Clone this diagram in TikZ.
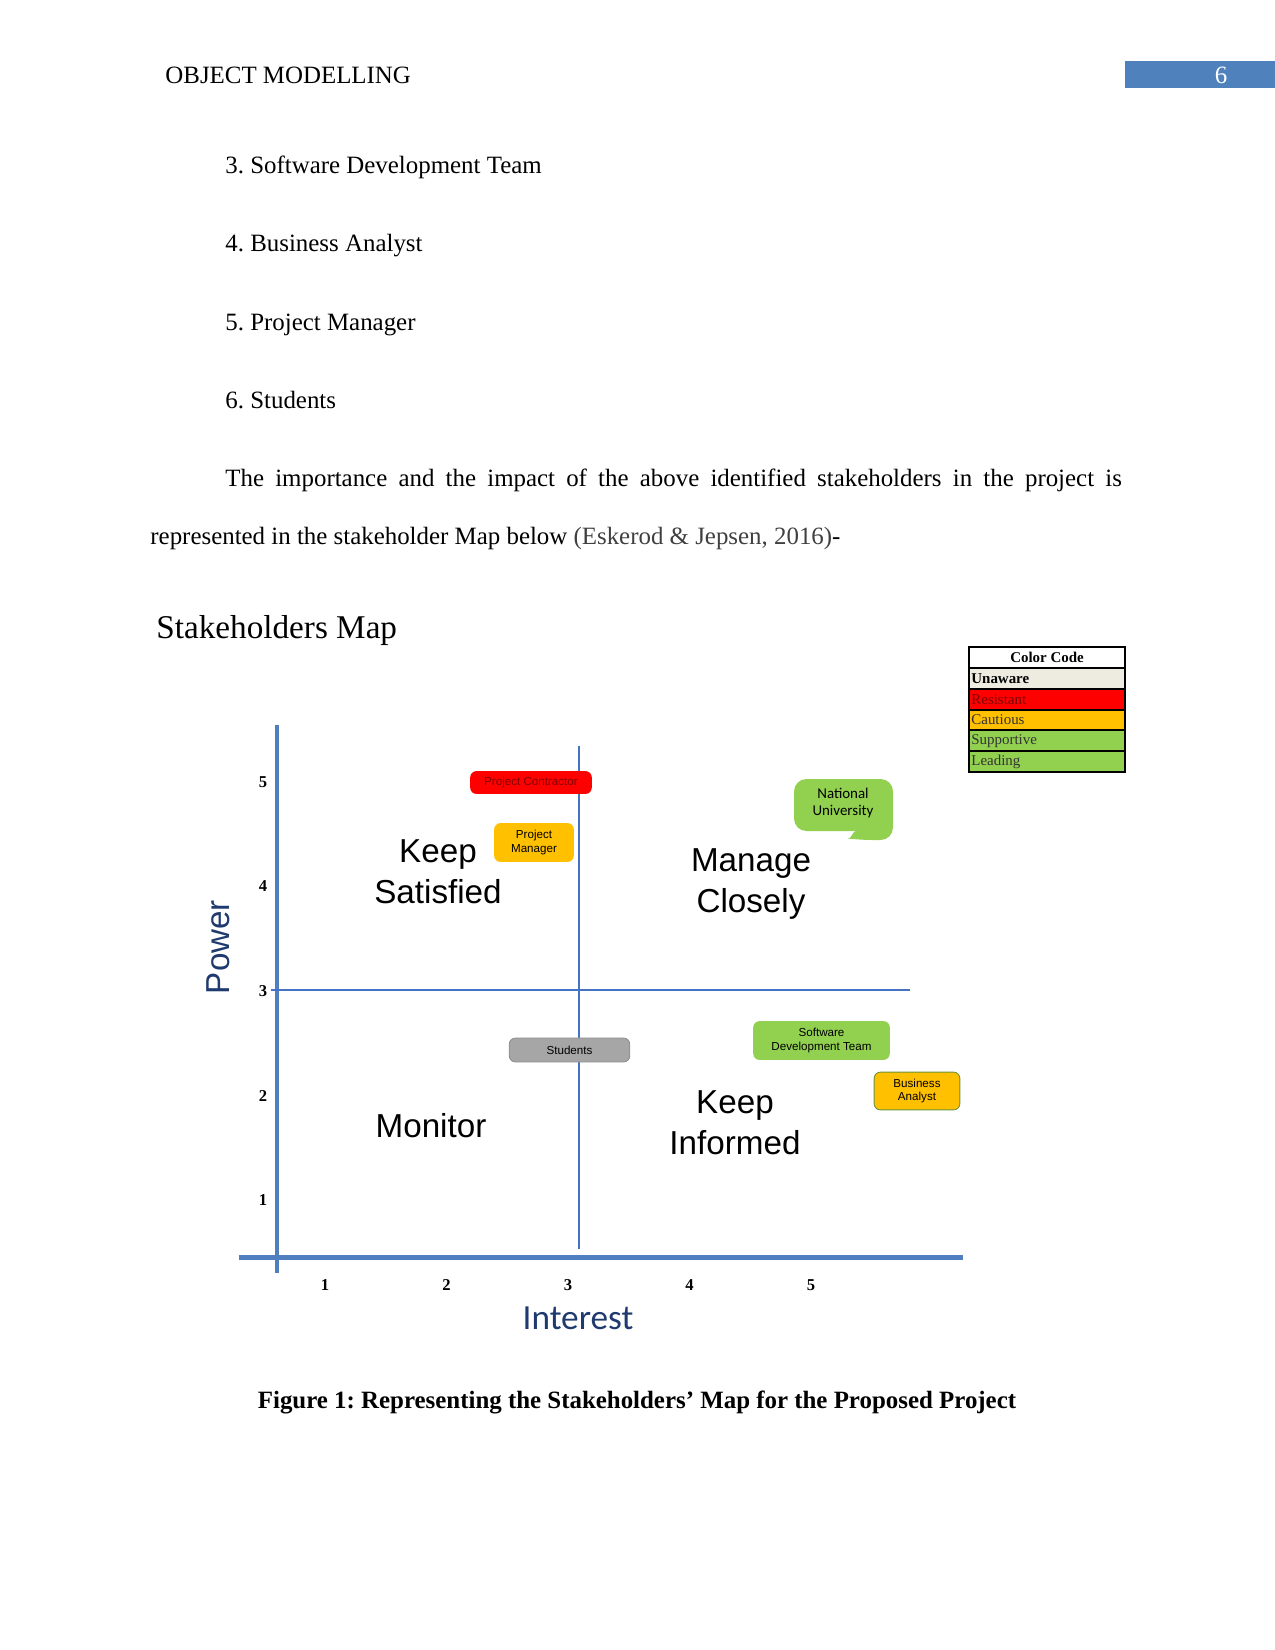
\documentclass[tikz,border=0pt]{standalone}
\usepackage{fontspec}
\setmainfont{Liberation Serif}
\newfontfamily\arialf{Liberation Sans}
\newfontfamily\calib{Carlito}
\usepackage{tikz}
\frenchspacing
\definecolor{hdrblue}{HTML}{4F81BD}
\definecolor{axisblue}{HTML}{4F7FBF}
\definecolor{quadblue}{HTML}{4472C4}
\definecolor{navy}{HTML}{1F3A6E}
\definecolor{resistant}{HTML}{FF0000}
\definecolor{resTxt}{HTML}{7F0000}
\definecolor{cautious}{HTML}{FFC000}
\definecolor{leading}{HTML}{92D050}
\definecolor{unaware}{HTML}{EEECE1}
\definecolor{grayBox}{HTML}{A6A6A6}
\definecolor{citeGray}{HTML}{404040}
\tikzset{pg/.style={x=0.016933cm,y=-0.016933cm,inner sep=0pt},
  body/.style={anchor=base west,font=\fontsize{12}{14}\selectfont},
  quad/.style={align=center,font=\arialf\fontsize{16}{19.7}\selectfont},
  tick/.style={font=\bfseries\fontsize{8}{9}\selectfont},
  stake/.style={rounded corners=3pt,align=center,font=\arialf\fontsize{5.6}{6.6}\selectfont},
  legtxt/.style={anchor=west,font=\fontsize{7.2}{8}\selectfont}}

\begin{document}
\begin{tikzpicture}[pg]
  \useasboundingbox (0,0) rectangle (1275,1650);
  % running head
  \node[body] (head) at (165,83) {OBJECT MODELLING};
  \fill[hdrblue] (1125,61) rectangle (1275,88);
  \node[white,font=\fontsize{12}{14}\selectfont] (pgno) at (1221,75) {6};
  % list and paragraph
  \foreach \y/\l in {173/{3. Software Development Team},251/{4. Business Analyst},330/{5. Project Manager},408/{6. Students}}{\node[body] at (225,\y){\l};}
  \node[body] (par1) at (225,486) {\makebox[432pt][s]{The importance and the impact of the above identified stakeholders in the project is}};
  \node[body] (par2) at (150,544) {represented in the stakeholder Map below {\color{citeGray}(Eskerod \& Jepsen, 2016)}-};
  \node[anchor=base west,font=\fontsize{16}{19}\selectfont] (title) at (156,638) {Stakeholders Map};

  % colour code table
  \node[font=\bfseries\fontsize{7.2}{8}\selectfont] (legHead) at (1047,657.5) {Color Code};
  \foreach \i/\t/\c/\k in {0/{\textbf{Unaware}}/unaware/black,1/Resistant/resistant/resTxt,2/Cautious/cautious/black!80,3/Supportive/leading/black!80,4/Leading/leading/black!80}{
    \fill[\c] (969,668+20.8*\i) rectangle (1125,688.8+20.8*\i);
    \node[legtxt,text=\k] (leg\i) at (971,678.4+20.8*\i) {\t};
    \draw[line width=.9pt] (969,668+20.8*\i)--(1125,668+20.8*\i);}
  \draw[line width=.5pt] (969,647) rectangle (1125,772);

  % axes and quadrants
  \draw[axisblue,line width=2.4pt] (277,725)--(277,1273);
  \draw[axisblue,line width=2.4pt] (239,1257)--(963,1257);
  \draw[quadblue,line width=.7pt] (579,746)--(579,1249);
  \draw[quadblue,line width=.7pt] (271,990)--(910,990);
  \foreach \v in {1,...,5}{
    \node[tick] (py\v) at (263,1200-104.5*\v+104.5) {\v};
    \node[tick] (ix\v) at (325+121.5*\v-121.5,1285) {\v};}
  \node[navy,rotate=90,font=\arialf\fontsize{16}{19}\selectfont] (power) at (218,947) {Power};
  \node[navy,font=\calib\fontsize{17}{20}\selectfont] (interest) at (578,1318) {Interest};

  \node[quad] (keepSat) at (438,872) {Keep\\Satisfied};
  \node[quad] (manage) at (751,884) {Manage\\Closely};
  \node[quad] (monitor) at (431,1126) {Monitor};
  \node[quad] (keepInf) at (735,1123) {Keep\\Informed};

  % stakeholders
  \node[stake,fill=resistant,text=resTxt,minimum width=58.6pt,minimum height=11pt] (contractor) at (531,782.5) {Project Contractor};
  \node[stake,fill=cautious,minimum width=38.4pt,minimum height=18.7pt] (manager) at (534,842.5) {Project\\Manager};
  \node[stake,fill=grayBox,draw=gray!90,minimum width=58.1pt,minimum height=11.5pt] (students) at (569.5,1050) {Students};
  \node[stake,fill=leading,minimum width=65.8pt,minimum height=18.7pt] (software) at (821.5,1040.5) {Software\\Development Team};
  \node[stake,fill=cautious,draw=leading!70!black,minimum width=41.3pt,minimum height=18.2pt] (analyst) at (917,1091) {Business\\Analyst};
  \fill[leading,rounded corners=6pt] (794,779)--(893,779)--(893,840)--(860,840) .. controls (852,839) and (852,831) .. (844,831)--(794,831)--cycle;
  \node[align=center,font=\calib\fontsize{7.2}{8}\selectfont] (national) at (843,803) {National\\University};

  \node[font=\bfseries\fontsize{12}{14}\selectfont] (caption) at (637,1402) {Figure 1: Representing the Stakeholders' Map for the Proposed Project};
\end{tikzpicture}
\end{document}
